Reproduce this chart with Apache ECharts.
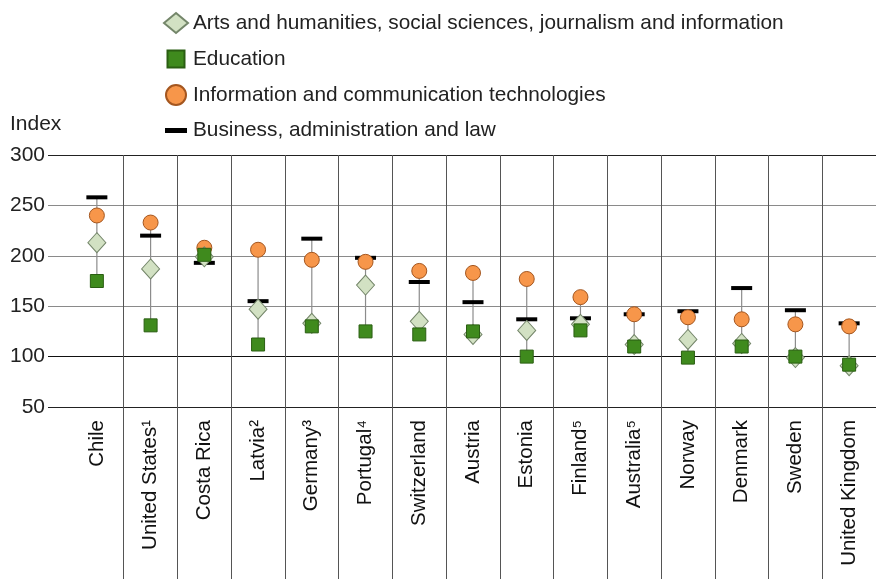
<!DOCTYPE html>
<html>
<head>
<meta charset="utf-8">
<script src="https://cdn.jsdelivr.net/npm/echarts@6/dist/echarts.min.js"></script>
<style>
  html, body { margin: 0; padding: 0; background: #fff; }
  #chart { width: 876px; height: 579px; }
</style>
</head>
<body>
<div id="chart"></div>
<script>
// data
const countries = ['Chile', 'United States¹', 'Costa Rica', 'Latvia²', 'Germany³', 'Portugal⁴', 'Switzerland',
  'Austria', 'Estonia', 'Finland⁵', 'Australia⁵', 'Norway', 'Denmark', 'Sweden', 'United Kingdom']
const arts = [213, 187, 199, 147, 133, 171, 135, 122, 126, 132, 112, 117, 113, 99, 91]
const education = [175, 131, 201, 112, 130, 125, 122, 125, 100, 126, 110, 99, 110, 100, 92]
const ict = [240, 233, 208, 206, 196, 194, 185, 183, 177, 159, 142, 139, 137, 132, 130]
const business = [258, 220, 193, 155, 217, 198, 174, 154, 137, 138, 142, 145, 168, 146, 133]
const yTicks = [50, 100, 150, 200, 250, 300]

const names = {
  arts: 'Arts and humanities, social sciences, journalism and information',
  edu: 'Education',
  ict: 'Information and communication technologies',
  biz: 'Business, administration and law'
}

// range of the four values per country, for the thin connector
const ranges = countries.map((c, i) => {
  const v = [arts[i], education[i], ict[i], business[i]]
  return [i, Math.min(...v), Math.max(...v)]
})

const font = "'Liberation Sans', Arial, sans-serif"
const yMin = yTicks[0]
const yMax = yTicks[yTicks.length - 1]
const yStep = yTicks[1] - yTicks[0]
const skipFirst = (i) => i > 0

const chart = echarts.init(document.getElementById('chart'))

const option = {
  animation: false,
  backgroundColor: '#fff',
  title: {
    text: 'Index',
    left: 5,
    top: 109,
    textStyle: { fontFamily: font, fontSize: 21, fontWeight: 'normal', color: '#222' }
  },
  legend: {
    orient: 'vertical',
    left: 158,
    top: 7,
    itemWidth: 24,
    itemHeight: 20,
    itemGap: 14,
    textStyle: { fontFamily: font, fontSize: 20.8, color: '#222' },
    data: [
      { name: names.arts, icon: 'diamond' },
      { name: names.edu, icon: 'path://M0,0M3.5,1.5H20.5V18.5H3.5ZM24,20' },
      { name: names.ict, icon: 'circle' },
      { name: names.biz, icon: 'path://M0,0M1,7.5H23V12.5H1ZM24,20' }
    ]
  },
  grid: [
    { left: 48, right: 0, top: 155, bottom: 172 },
    { left: 70, right: -6, top: 155, bottom: 172 }
  ],
  xAxis: [
    { type: 'category', gridIndex: 0, data: countries, show: false },
    {
      type: 'category',
      gridIndex: 1,
      data: countries,
      axisLine: { show: false },
      axisTick: { show: true, length: 172, interval: skipFirst, lineStyle: { color: '#555' } },
      splitLine: { show: true, interval: skipFirst, lineStyle: { color: '#555' } },
      axisLabel: { interval: 0, rotate: 90, margin: 13, fontFamily: font, fontSize: 20.5, color: '#111' }
    }
  ],
  yAxis: [
    {
      type: 'value',
      gridIndex: 0,
      min: yMin,
      max: yMax,
      interval: yStep,
      axisLine: { show: false },
      axisTick: { show: false },
      axisLabel: { fontFamily: font, fontSize: 21, color: '#222', margin: 3 },
      splitLine: { lineStyle: { color: ['#222', '#111', '#8a8a8a', '#8a8a8a', '#8a8a8a', '#222'] } }
    },
    { type: 'value', gridIndex: 1, min: yMin, max: yMax, interval: yStep, show: false }
  ],
  series: [
    {
      type: 'custom',
      xAxisIndex: 1,
      yAxisIndex: 1,
      z: 1,
      silent: true,
      encode: { x: 0, y: [1, 2] },
      data: ranges,
      renderItem: (params, api) => {
        const a = api.coord([api.value(0), api.value(1)])
        const b = api.coord([api.value(0), api.value(2)])
        return {
          type: 'line',
          shape: { x1: a[0], y1: a[1], x2: b[0], y2: b[1] },
          style: { stroke: '#8c8c8c', lineWidth: 1.2 }
        }
      }
    },
    {
      name: names.biz,
      type: 'scatter',
      xAxisIndex: 1,
      yAxisIndex: 1,
      z: 2,
      symbol: 'rect',
      symbolSize: [21, 4],
      itemStyle: { color: '#000', opacity: 1 },
      data: business
    },
    {
      name: names.ict,
      type: 'scatter',
      xAxisIndex: 1,
      yAxisIndex: 1,
      z: 3,
      symbol: 'circle',
      symbolSize: 15,
      itemStyle: { color: '#f7964a', borderColor: '#a4561f', borderWidth: 1, opacity: 1 },
      data: ict
    },
    {
      name: names.arts,
      type: 'scatter',
      xAxisIndex: 1,
      yAxisIndex: 1,
      z: 4,
      symbol: 'diamond',
      symbolSize: [18, 20],
      itemStyle: { color: '#d2e1c3', borderColor: '#74866a', borderWidth: 1, opacity: 1 },
      data: arts
    },
    {
      name: names.edu,
      type: 'scatter',
      xAxisIndex: 1,
      yAxisIndex: 1,
      z: 5,
      symbol: 'rect',
      symbolSize: 13,
      itemStyle: { color: '#3f8a1d', borderColor: '#2a5e12', borderWidth: 1, opacity: 1 },
      data: education
    }
  ]
}

chart.setOption(option)
</script>
</body>
</html>
